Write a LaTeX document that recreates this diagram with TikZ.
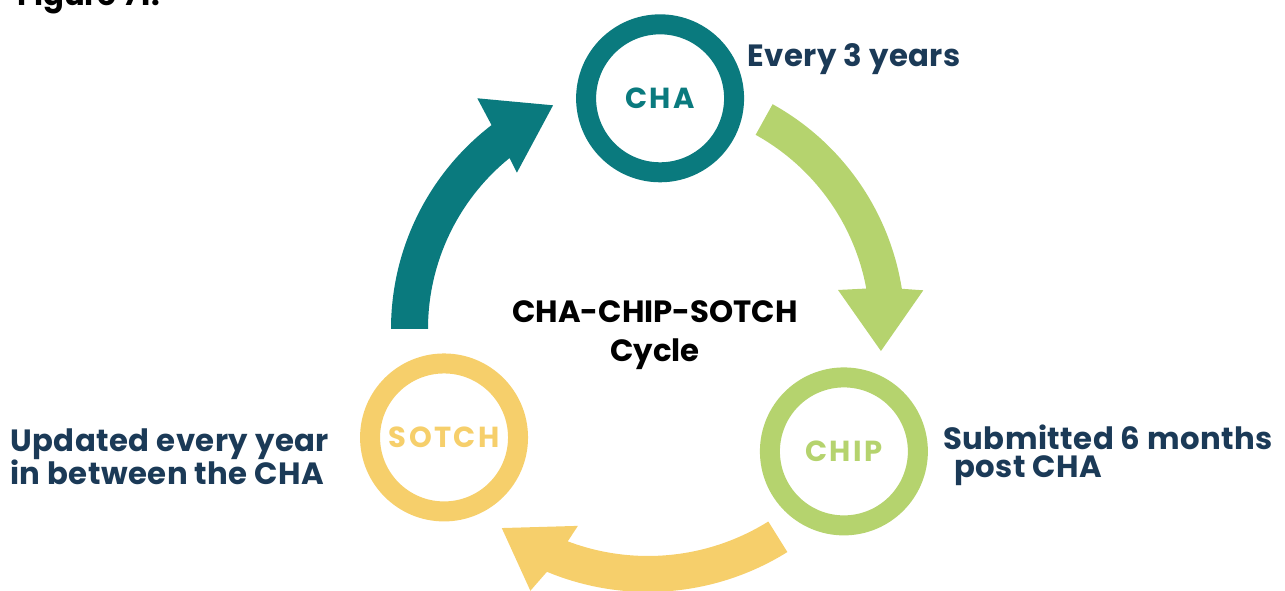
\documentclass[tikz,border=0pt]{standalone}
\usepackage{fontspec}
\setmainfont{Poppins}
\usetikzlibrary{positioning, calc}
\definecolor{chateal}{RGB}{10,122,126}
\definecolor{chipgreen}{RGB}{181,211,110}
\definecolor{sotchyellow}{RGB}{246,207,107}
\definecolor{darknavy}{RGB}{27,58,87}

\begin{document}
\begin{tikzpicture}[
        x=0.02cm, y=0.02cm,
        ring/.style={circle, draw, line width=0.4cm, minimum size=2.96cm, inner sep=0pt, font=\fontsize{16.5}{16.5}\selectfont\bfseries\addfontfeature{LetterSpace=8}},
        note/.style={text=darknavy, font=\fontsize{17.5}{16}\selectfont\bfseries\addfontfeature{LetterSpace=1.5}, align=left, inner sep=0pt},
        title/.style={font=\fontsize{17.5}{22.7}\selectfont\bfseries, align=center, inner sep=0pt},
    ]
    \useasboundingbox (0,0) rectangle (1285,591);
    \clip (0,0) rectangle (1285,591);
    \coordinate (hub) at (648,262);
    % cycle arrows
    \begin{scope}[shift={(hub)}]
        \fill[chateal] (180:257) arc[start angle=180, end angle=127.5, radius=257] -- (126.5:287) -- (113:243) -- (130:204) -- (129:220) arc[start angle=129, end angle=180, radius=220] -- cycle;
        \fill[chipgreen] (61:257) arc[start angle=61, end angle=9, radius=257] -- (8:278) -- (-5.4:234) -- (11.6:194) -- (10.5:222) arc[start angle=10.5, end angle=61, radius=222] -- cycle;
        \fill[sotchyellow] (-58:263) arc[start angle=-58, end angle=-112.6, radius=263] -- (-114.2:287) -- (-126.3:247) -- (-109.6:209) -- (-110.7:227) arc[start angle=-110.7, end angle=-58, radius=227] -- cycle;
    \end{scope}
    % stages
    \node[ring, chateal] (cha) at ($(hub)+(87:231)$) {CHA};
    \node[ring, chipgreen] (chip) at ($(hub)+(-32:231)$) {CHIP};
    \node[ring, sotchyellow] (sotch) at ($(hub)+(208:231)$) {SOTCH};
    % texts (base = last line)
    \node[title, anchor=base] (cycle) at (655,229) {CHA-CHIP-SOTCH\\Cycle};
    \node[note, anchor=base west] (every) at (747,524) {Every 3 years};
    \node[note, anchor=base west] (submit) at (943,113) {Submitted 6 months\\\hspace*{0.22cm}post CHA};
    \node[note, anchor=base west, font=\fontsize{17.5}{18.8}\selectfont\bfseries\addfontfeature{LetterSpace=1.5}] (update) at (10,106) {Updated every year\\in between the CHA};
    \node[anchor=base west, inner sep=0pt, font=\fontsize{17.5}{17.5}\selectfont\bfseries] (fig) at (17,585) {Figure 71.};
\end{tikzpicture}
\end{document}
